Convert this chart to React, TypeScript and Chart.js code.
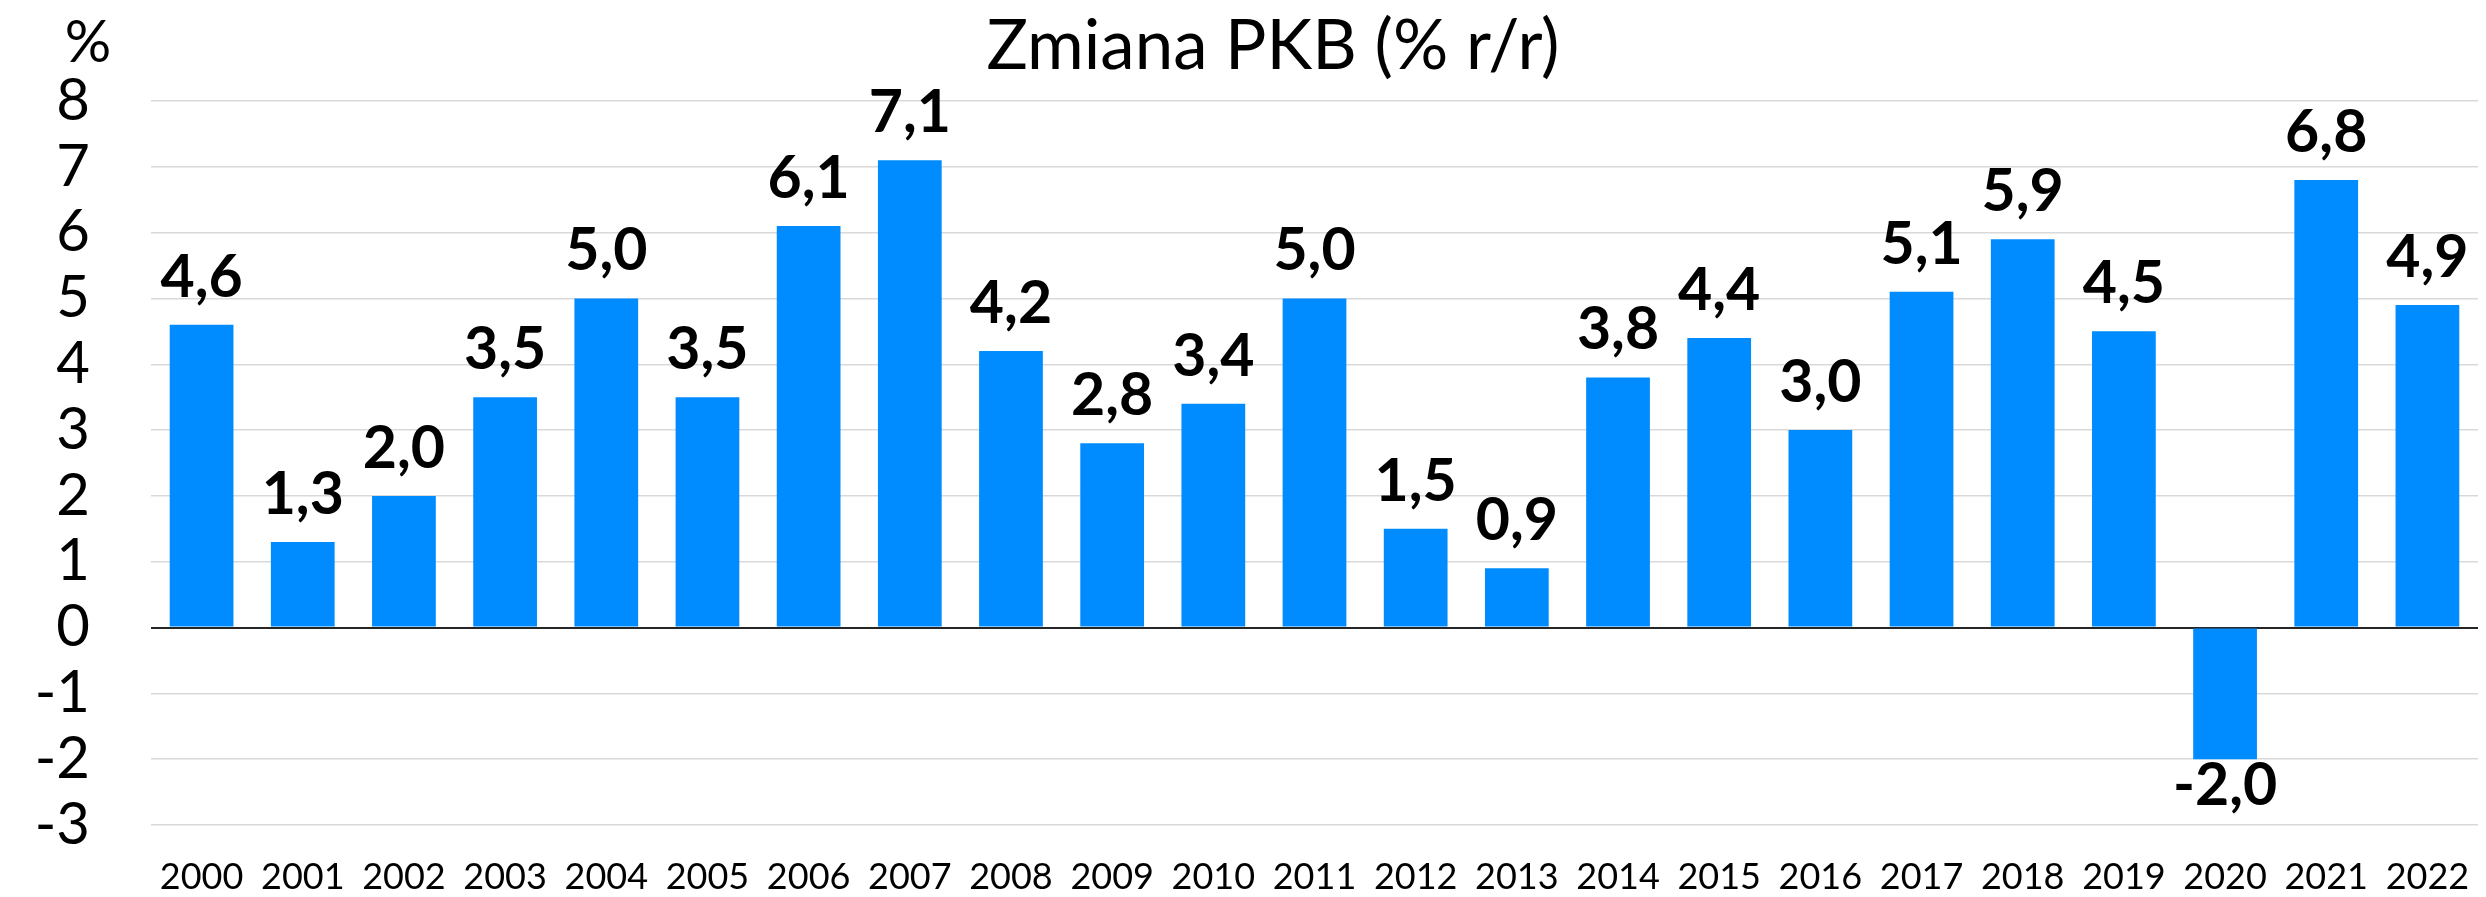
import React, { useEffect, useRef } from "react";
import { Chart, registerables } from "chart.js";

Chart.register(...registerables);

const categories = [
  "2000", "2001", "2002", "2003", "2004", "2005", "2006", "2007", "2008", "2009", "2010", "2011",
  "2012", "2013", "2014", "2015", "2016", "2017", "2018", "2019", "2020", "2021", "2022",
];
const gdpChange = [
  4.6, 1.3, 2.0, 3.5, 5.0, 3.5, 6.1, 7.1, 4.2, 2.8, 3.4, 5.0,
  1.5, 0.9, 3.8, 4.4, 3.0, 5.1, 5.9, 4.5, -2.0, 6.8, 4.9,
];
const yMin = -3;
const yMax = 8;
const yStep = 1;
const titleText = "Zmiana PKB (% r/r)";
const unitText = "%";

const FONT = "Lato, 'Open Sans', sans-serif";

const fmt = (v: number) => v.toFixed(1).replace(".", ",");

const overlayPlugin = {
  id: "overlay",
  afterDatasetsDraw(chart: any) {
    const ctx = chart.ctx;
    const meta = chart.getDatasetMeta(0);
    ctx.save();
    ctx.fillStyle = "#000";
    ctx.textAlign = "center";
    ctx.textBaseline = "alphabetic";
    ctx.font = `bold 59px ${FONT}`;
    meta.data.forEach((el: any, i: number) => {
      const v = gdpChange[i];
      const y = v >= 0 ? el.y - 28 : el.y + 46;
      ctx.fillText(fmt(v), el.x, y);
    });
    ctx.restore();
  },
  afterDraw(chart: any) {
    const ctx = chart.ctx;
    ctx.save();
    ctx.fillStyle = "#000";
    ctx.textBaseline = "alphabetic";
    ctx.textAlign = "center";
    ctx.font = `400 69px ${FONT}`;
    ctx.fillText(titleText, 1273, 69);
    ctx.font = `400 58px ${FONT}`;
    ctx.fillText(unitText, 88, 62);
    ctx.restore();
  },
};

export default function App() {
  const ref = useRef<HTMLCanvasElement | null>(null);

  useEffect(() => {
    if (!ref.current) return;
    const chart = new Chart(ref.current, {
      type: "bar",
      data: {
        labels: categories,
        datasets: [
          {
            data: gdpChange,
            backgroundColor: "#008CFF",
            borderWidth: 0,
            categoryPercentage: 1,
            barPercentage: 0.63,
          },
        ],
      },
      options: {
        responsive: false,
        animation: false,
        events: [],
        layout: { padding: { left: 0, right: 8, top: 101, bottom: 0 } },
        plugins: {
          legend: { display: false },
          title: { display: false },
          tooltip: { enabled: false },
        },
        scales: {
          x: {
            grid: {
              display: true,
              drawOnChartArea: false,
              drawTicks: true,
              tickLength: 31,
              color: "rgba(0,0,0,0)",
              tickColor: "rgba(0,0,0,0)",
            },
            border: { display: false },
            ticks: {
              color: "#000",
              font: { family: FONT, size: 36 },
              padding: 0,
              maxRotation: 0,
              minRotation: 0,
              autoSkip: false,
            },
            afterFit: (scale: any) => {
              scale.height = 72;
            },
          },
          y: {
            min: yMin,
            max: yMax,
            grid: {
              drawTicks: true,
              tickLength: 61,
              tickColor: "rgba(0,0,0,0)",
              color: (c: any) => (c.tick && c.tick.value === 0 ? "#262626" : "#d9d9d9"),
              lineWidth: (c: any) => (c.tick && c.tick.value === 0 ? 2 : 1.5),
            },
            border: { display: false },
            ticks: {
              stepSize: yStep,
              autoSkip: false,
              color: "#000",
              font: { family: FONT, size: 58 },
              padding: 0,
              callback: (v: any) => String(v),
            },
            afterFit: (scale: any) => {
              scale.width = 151;
            },
          },
        },
      },
      plugins: [overlayPlugin],
    });
    return () => chart.destroy();
  }, []);

  return (
    <div style={{ position: "absolute", left: 0, top: 0, width: 2486, height: 897, background: "#fff" }}>
      <canvas ref={ref} width={2486} height={897} style={{ width: 2486, height: 897, display: "block" }} />
    </div>
  );
}
